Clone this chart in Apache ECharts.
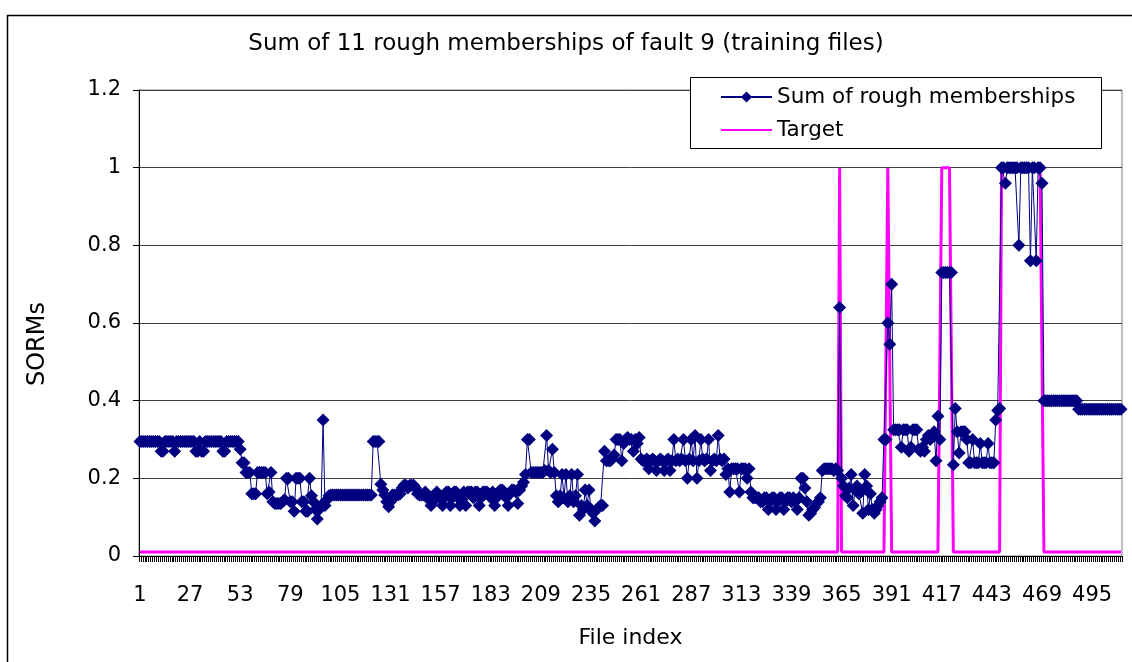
<!DOCTYPE html>
<html>
<head>
<meta charset="utf-8">
<script src="https://cdn.jsdelivr.net/npm/echarts@6/dist/echarts.min.js"></script>
<style>
html,body{margin:0;padding:0;background:#fff;}
#chart{width:1132px;height:662px;}
</style>
</head>
<body>
<div id="chart"></div>
<script>
// Sum of rough memberships, files 1-100
const sormA = [
0.295,0.295,0.295,0.295,0.295,0.295,0.295,0.295,0.295,0.295,
0.295,0.27,0.27,0.295,0.295,0.295,0.295,0.295,0.27,0.295,
0.295,0.295,0.295,0.295,0.295,0.295,0.295,0.295,0.295,0.27,
0.27,0.295,0.27,0.27,0.295,0.295,0.295,0.295,0.295,0.295,
0.295,0.295,0.295,0.27,0.27,0.295,0.295,0.295,0.295,0.295,
0.295,0.295,0.275,0.24,0.24,0.215,0.215,0.215,0.16,0.16,
0.16,0.215,0.215,0.215,0.215,0.215,0.16,0.165,0.215,0.14,
0.135,0.135,0.135,0.135,0.14,0.145,0.2,0.2,0.14,0.14,
0.115,0.2,0.2,0.2,0.14,0.14,0.115,0.115,0.2,0.155,
0.14,0.12,0.095,0.12,0.13,0.35,0.13,0.145,0.155,0.157
];
// files 101-200
const sormB = [
0.157,0.157,0.157,0.157,0.157,0.157,0.157,0.157,0.157,0.157,
0.157,0.157,0.157,0.157,0.157,0.157,0.157,0.157,0.157,0.157,
0.157,0.295,0.295,0.295,0.295,0.185,0.17,0.157,0.14,0.127,
0.14,0.157,0.157,0.157,0.157,0.16,0.175,0.182,0.182,0.175,
0.182,0.182,0.182,0.175,0.16,0.157,0.157,0.157,0.165,0.157,
0.145,0.13,0.14,0.157,0.165,0.157,0.15,0.13,0.15,0.165,
0.165,0.13,0.15,0.165,0.165,0.15,0.13,0.145,0.165,0.13,
0.165,0.165,0.165,0.15,0.165,0.165,0.13,0.15,0.165,0.165,
0.165,0.16,0.15,0.165,0.13,0.15,0.165,0.17,0.17,0.165,
0.15,0.13,0.16,0.17,0.17,0.165,0.135,0.17,0.18,0.19
];
// files 201-300
const sormC = [
0.21,0.3,0.3,0.215,0.215,0.215,0.215,0.215,0.215,0.215,
0.22,0.31,0.22,0.215,0.275,0.215,0.155,0.14,0.155,0.21,
0.15,0.21,0.14,0.155,0.21,0.14,0.155,0.21,0.105,0.13,
0.12,0.17,0.13,0.17,0.12,0.11,0.09,0.12,0.125,0.13,
0.13,0.27,0.245,0.245,0.245,0.25,0.26,0.3,0.3,0.3,
0.245,0.29,0.3,0.305,0.3,0.3,0.27,0.3,0.29,0.305,
0.25,0.245,0.245,0.25,0.225,0.245,0.25,0.245,0.22,0.245,
0.25,0.245,0.22,0.245,0.25,0.22,0.245,0.3,0.245,0.25,
0.245,0.25,0.3,0.245,0.2,0.25,0.3,0.245,0.31,0.2,
0.245,0.3,0.25,0.245,0.25,0.3,0.22,0.245,0.25,0.245
];
// files 301-400
const sormD = [
0.31,0.25,0.245,0.25,0.21,0.225,0.165,0.225,0.225,0.225,
0.225,0.165,0.225,0.225,0.225,0.2,0.225,0.165,0.15,0.15,
0.15,0.15,0.14,0.14,0.15,0.15,0.12,0.14,0.15,0.15,
0.12,0.14,0.15,0.15,0.12,0.14,0.15,0.15,0.14,0.15,
0.14,0.12,0.15,0.2,0.2,0.175,0.14,0.105,0.11,0.12,
0.125,0.135,0.14,0.15,0.22,0.225,0.225,0.225,0.225,0.225,
0.22,0.225,0.22,0.64,0.2,0.18,0.155,0.15,0.175,0.21,
0.13,0.17,0.18,0.16,0.165,0.11,0.21,0.18,0.12,0.16,
0.12,0.11,0.12,0.13,0.14,0.15,0.3,0.3,0.6,0.545,
0.7,0.325,0.325,0.325,0.325,0.28,0.325,0.325,0.325,0.27
];
// files 401-510
const sormE = [
0.28,0.325,0.325,0.325,0.275,0.27,0.28,0.27,0.3,0.31,
0.3,0.31,0.32,0.245,0.36,0.3,0.73,0.73,0.73,0.73,
0.73,0.73,0.235,0.38,0.32,0.265,0.32,0.32,0.32,0.3,
0.24,0.24,0.3,0.24,0.24,0.24,0.29,0.24,0.24,0.24,
0.29,0.24,0.24,0.24,0.35,0.375,0.38,1,1,0.96,
1,1,1,1,1,1,0.8,1,1,1,
1,1,0.76,1,1,0.76,1,1,0.96,0.4,
0.4,0.4,0.4,0.4,0.4,0.4,0.4,0.4,0.4,0.4,
0.4,0.4,0.4,0.4,0.4,0.4,0.4,0.378,0.378,0.378,
0.378,0.378,0.378,0.378,0.378,0.378,0.378,0.378,0.378,0.378,
0.378,0.378,0.378,0.378,0.378,0.378,0.378,0.378,0.378,0.378
];
// Target, 30 files per row (files 1-510)
const target = [
0.01,0.01,0.01,0.01,0.01,0.01,0.01,0.01,0.01,0.01,0.01,0.01,0.01,0.01,0.01,0.01,0.01,0.01,0.01,0.01,0.01,0.01,0.01,0.01,0.01,0.01,0.01,0.01,0.01,0.01,
0.01,0.01,0.01,0.01,0.01,0.01,0.01,0.01,0.01,0.01,0.01,0.01,0.01,0.01,0.01,0.01,0.01,0.01,0.01,0.01,0.01,0.01,0.01,0.01,0.01,0.01,0.01,0.01,0.01,0.01,
0.01,0.01,0.01,0.01,0.01,0.01,0.01,0.01,0.01,0.01,0.01,0.01,0.01,0.01,0.01,0.01,0.01,0.01,0.01,0.01,0.01,0.01,0.01,0.01,0.01,0.01,0.01,0.01,0.01,0.01,
0.01,0.01,0.01,0.01,0.01,0.01,0.01,0.01,0.01,0.01,0.01,0.01,0.01,0.01,0.01,0.01,0.01,0.01,0.01,0.01,0.01,0.01,0.01,0.01,0.01,0.01,0.01,0.01,0.01,0.01,
0.01,0.01,0.01,0.01,0.01,0.01,0.01,0.01,0.01,0.01,0.01,0.01,0.01,0.01,0.01,0.01,0.01,0.01,0.01,0.01,0.01,0.01,0.01,0.01,0.01,0.01,0.01,0.01,0.01,0.01,
0.01,0.01,0.01,0.01,0.01,0.01,0.01,0.01,0.01,0.01,0.01,0.01,0.01,0.01,0.01,0.01,0.01,0.01,0.01,0.01,0.01,0.01,0.01,0.01,0.01,0.01,0.01,0.01,0.01,0.01,
0.01,0.01,0.01,0.01,0.01,0.01,0.01,0.01,0.01,0.01,0.01,0.01,0.01,0.01,0.01,0.01,0.01,0.01,0.01,0.01,0.01,0.01,0.01,0.01,0.01,0.01,0.01,0.01,0.01,0.01,
0.01,0.01,0.01,0.01,0.01,0.01,0.01,0.01,0.01,0.01,0.01,0.01,0.01,0.01,0.01,0.01,0.01,0.01,0.01,0.01,0.01,0.01,0.01,0.01,0.01,0.01,0.01,0.01,0.01,0.01,
0.01,0.01,0.01,0.01,0.01,0.01,0.01,0.01,0.01,0.01,0.01,0.01,0.01,0.01,0.01,0.01,0.01,0.01,0.01,0.01,0.01,0.01,0.01,0.01,0.01,0.01,0.01,0.01,0.01,0.01,
0.01,0.01,0.01,0.01,0.01,0.01,0.01,0.01,0.01,0.01,0.01,0.01,0.01,0.01,0.01,0.01,0.01,0.01,0.01,0.01,0.01,0.01,0.01,0.01,0.01,0.01,0.01,0.01,0.01,0.01,
0.01,0.01,0.01,0.01,0.01,0.01,0.01,0.01,0.01,0.01,0.01,0.01,0.01,0.01,0.01,0.01,0.01,0.01,0.01,0.01,0.01,0.01,0.01,0.01,0.01,0.01,0.01,0.01,0.01,0.01,
0.01,0.01,0.01,0.01,0.01,0.01,0.01,0.01,0.01,0.01,0.01,0.01,0.01,0.01,0.01,0.01,0.01,0.01,0.01,0.01,0.01,0.01,0.01,0.01,0.01,0.01,0.01,0.01,0.01,0.01,
0.01,0.01,0.01,1,0.01,0.01,0.01,0.01,0.01,0.01,0.01,0.01,0.01,0.01,0.01,0.01,0.01,0.01,0.01,0.01,0.01,0.01,0.01,0.01,0.01,0.01,0.01,0.01,1,1,
0.01,0.01,0.01,0.01,0.01,0.01,0.01,0.01,0.01,0.01,0.01,0.01,0.01,0.01,0.01,0.01,0.01,0.01,0.01,0.01,0.01,0.01,0.01,0.01,0.01,0.01,1,1,1,1,
1,1,0.01,0.01,0.01,0.01,0.01,0.01,0.01,0.01,0.01,0.01,0.01,0.01,0.01,0.01,0.01,0.01,0.01,0.01,0.01,0.01,0.01,0.01,0.01,0.01,0.01,1,1,1,
1,1,1,1,1,1,1,1,1,1,1,1,1,1,1,1,1,1,1,0.01,0.01,0.01,0.01,0.01,0.01,0.01,0.01,0.01,0.01,0.01,
0.01,0.01,0.01,0.01,0.01,0.01,0.01,0.01,0.01,0.01,0.01,0.01,0.01,0.01,0.01,0.01,0.01,0.01,0.01,0.01,0.01,0.01,0.01,0.01,0.01,0.01,0.01,0.01,0.01,0.01
];
const sorm = sormA.concat(sormB, sormC, sormD, sormE);
const fileCount = 510;
const categories = [];
for (let i = 1; i <= fileCount; i++) categories.push(String(i));
const yTicks = { min: 0, max: 1.2, step: 0.2 };
const titleText = 'Sum of 11 rough memberships of fault 9 (training files)';
const seriesNames = ['Sum of rough memberships', 'Target'];
const xAxisName = 'File index';
const yAxisName = 'SORMs';

const FONT = 'DejaVu Sans';
const chart = echarts.init(document.getElementById('chart'), null, { renderer: 'canvas' });
chart.setOption({
  animation: false,
  backgroundColor: '#fff',
  title: {
    text: titleText,
    left: 'center',
    top: 28,
    textStyle: { fontFamily: FONT, fontSize: 23, fontWeight: 'normal', color: '#000' }
  },
  legend: {
    orient: 'vertical',
    left: 691,
    top: 77,
    padding: [9, 10, 7, 29],
    itemWidth: 51,
    itemHeight: 14,
    itemGap: 11,
    z: 10,
    textStyle: { fontFamily: FONT, fontSize: 21.5, color: '#000' },
    data: [
      { name: seriesNames[0] },
      { name: seriesNames[1], itemStyle: { opacity: 0 } }
    ]
  },
  graphic: [
    { type: 'rect', z: 5, shape: { x: 690.5, y: 77.5, width: 411, height: 71 },
      style: { fill: '#fff', stroke: '#000', lineWidth: 1 } },
    { type: 'rect', z: 5, shape: { x: 7.5, y: 15.5, width: 1300, height: 900 },
      style: { fill: 'none', stroke: '#000', lineWidth: 1.5 } },
    { type: 'text', z: 5, x: 38, y: 344, rotation: Math.PI / 2,
      style: { text: yAxisName, fontFamily: FONT, fontSize: 24, fill: '#000',
               textAlign: 'center', textVerticalAlign: 'middle' } }
  ],
  grid: {
    left: 139, right: 10, top: 90, bottom: 106,
    show: true, borderColor: '#808080', borderWidth: 1, backgroundColor: 'transparent'
  },
  xAxis: {
    type: 'category',
    data: categories,
    boundaryGap: true,
    name: xAxisName,
    nameLocation: 'middle',
    nameGap: 71,
    nameTextStyle: { fontFamily: FONT, fontSize: 22, color: '#000' },
    axisLine: { lineStyle: { color: '#000', width: 1 } },
    axisTick: { show: true, interval: 0, length: 6, lineStyle: { color: '#000', width: 1 } },
    axisLabel: { interval: 25, margin: 29, fontFamily: FONT, fontSize: 21, color: '#000' },
    splitLine: { show: false }
  },
  yAxis: {
    type: 'value',
    min: yTicks.min,
    max: yTicks.max,
    interval: yTicks.step,
    axisLine: { show: true, lineStyle: { color: '#000', width: 1 } },
    axisTick: { show: true, length: 6, lineStyle: { color: '#000' } },
    axisLabel: { margin: 18, fontFamily: FONT, fontSize: 21, color: '#000' },
    splitLine: { show: true, lineStyle: { color: '#404040', width: 1 } }
  },
  series: [
    {
      name: seriesNames[0],
      type: 'line',
      data: sorm,
      z: 4,
      symbol: 'diamond',
      symbolSize: 13,
      showAllSymbol: true,
      color: '#000080',
      itemStyle: { color: '#000080' },
      lineStyle: { color: '#000080', width: 1 }
    },
    {
      name: seriesNames[1],
      type: 'line',
      data: target,
      z: 3,
      symbol: 'none',
      showSymbol: false,
      color: '#FF00FF',
      lineStyle: { color: '#FF00FF', width: 3 }
    }
  ]
});
</script>
</body>
</html>
